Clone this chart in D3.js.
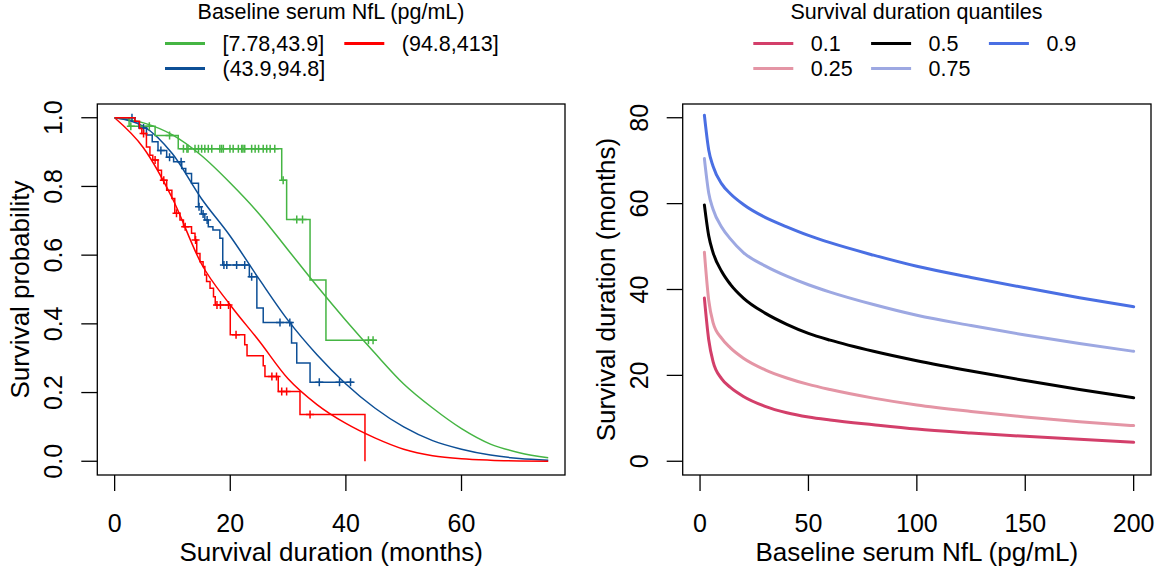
<!DOCTYPE html>
<html>
<head>
  <meta charset="utf-8">
  <script src="https://d3js.org/d3.v7.min.js"></script>
  <style>
    body { margin: 0; background: #fff; }
    svg { display: block; }
    text { font-family: "Liberation Sans", Arial, Helvetica, sans-serif; fill: #000; }
  </style>
</head>
<body>
<script>
  // ---------- left panel: Kaplan-Meier by baseline NfL tertile ----------
  var groupNames = ["[7.78,43.9]", "(43.9,94.8]", "(94.8,413]"];
  var groupColors = ["#45b543", "#0d4f96", "#ff0000"];

  // KM step points (time in months, survival)
  var greenTimes = [0, 2.5, 7, 11, 28.9, 29.75, 33.8, 36.55, 45.3];
  var greenSurv  = [1, 0.975, 0.948, 0.91, 0.818, 0.704, 0.528, 0.352, 0.352];
  var greenCens  = [2.8, 6.0, 9.5, 11.9, 12.5, 12.7, 13.9, 14.5, 15.05, 15.6, 16.2, 16.8, 18.2, 18.5, 18.8,
                    19.95, 20.5, 21.4, 21.97, 22.2, 22.5, 23.7, 24.3, 24.9, 25.7, 26.3, 26.9, 27.7,
                    29.15, 31.5, 32.5, 43.9, 44.7];

  var blueTimes = [0, 3.5, 4.2, 5.5, 6.5, 7.5, 9, 10.2, 11.6, 12.3, 13.3, 14.5, 15, 15.6, 16.2, 17, 18.2, 18.7,
                   23.3, 24.6, 25.7, 30.6, 31.5, 33.8, 41.3];
  var blueSurv  = [1, 0.988, 0.97, 0.95, 0.93, 0.905, 0.885, 0.872, 0.852, 0.838, 0.809, 0.741, 0.72, 0.702,
                   0.683, 0.673, 0.649, 0.571, 0.537, 0.446, 0.404, 0.344, 0.286, 0.23, 0.23];
  var blueCens  = [3.0, 5.0, 8.0, 9.5, 11.5, 14.6, 15.3, 16.0, 18.9, 19.4, 21.1, 22.5, 23.7, 28.6, 30.3,
                   35.4, 38.9, 40.8];

  var redTimes = [0, 3.5, 4.3, 4.7, 5.5, 6.1, 6.6, 7.5, 8.1, 9, 9.9, 10.4, 11.3, 11.9, 13.3, 13.9, 14.2, 14.76,
                  15.3, 15.6, 15.9, 16.5, 17.1, 17.4, 20.0, 22.5, 22.9, 25.7, 26.0, 28.3, 32.06, 43.3];
  var redSurv  = [1, 0.99, 0.969, 0.954, 0.915, 0.891, 0.877, 0.847, 0.818, 0.789, 0.765, 0.722, 0.702, 0.683,
                  0.664, 0.644, 0.605, 0.581, 0.567, 0.542, 0.523, 0.504, 0.479, 0.455, 0.368, 0.339, 0.307,
                  0.278, 0.247, 0.203, 0.136, 0];
  var redCens  = [5.0, 7.0, 8.5, 10.7, 12.2, 14.0, 17.7, 18.3, 19.7, 21.0, 27.2, 28.0, 28.9, 29.75, 33.8];

  // fitted parametric survival curves
  var fitTimes = [0, 5, 10, 15, 20, 25, 30, 35, 40, 45, 50, 55, 60, 65, 70, 75];
  var greenFit = [1, 0.985, 0.95, 0.89, 0.81, 0.72, 0.615, 0.51, 0.41, 0.315, 0.225, 0.155, 0.095, 0.05, 0.025, 0.01];
  var blueFit  = [1, 0.975, 0.895, 0.765, 0.655, 0.53, 0.41, 0.31, 0.225, 0.155, 0.10, 0.06, 0.035, 0.018, 0.008, 0.003];
  var redFit   = [1, 0.912, 0.765, 0.575, 0.455, 0.35, 0.24, 0.165, 0.11, 0.068, 0.035, 0.016, 0.007, 0.003, 0.001, 0];

  var leftXTicks = [0, 20, 40, 60];
  var leftYTicks = [0, 0.2, 0.4, 0.6, 0.8, 1.0];

  // ---------- right panel: predicted survival quantiles vs NfL ----------
  var quantNames  = ["0.1", "0.25", "0.5", "0.75", "0.9"];
  var quantColors = ["#d33f6a", "#e495a5", "#000000", "#9da8e2", "#4a6fe3"];
  var nfl = [2, 4, 6, 10, 14, 20, 30, 40, 50, 60, 80, 100, 125, 150, 175, 200];
  var q10 = [38, 28.3, 23.2, 19.2, 17.2, 15.1, 12.8, 11.3, 10.3, 9.6, 8.5, 7.5, 6.6, 5.8, 5.1, 4.4];
  var q25 = [48.7, 37.5, 32.3, 28.6, 26.4, 24.0, 21.3, 19.4, 17.9, 16.7, 14.7, 13.1, 11.6, 10.3, 9.2, 8.3];
  var q50 = [59.7, 52.5, 48.6, 44.2, 41.2, 38, 34.5, 31.9, 29.8, 28.2, 25.6, 23.4, 21, 18.8, 16.7, 14.8];
  var q75 = [70.5, 62.5, 58.7, 54.5, 51.8, 48.6, 45.5, 43.1, 41.1, 39.4, 36.5, 34, 31.6, 29.4, 27.4, 25.6];
  var q90 = [80.6, 72.5, 68.7, 64.6, 62.3, 59.8, 56.8, 54.6, 52.6, 50.9, 48, 45.4, 42.8, 40.4, 38.1, 36];

  var rightXTicks = [0, 50, 100, 150, 200];
  var rightYTicks = [0, 20, 40, 60, 80];

  (function () {
    var W = 1166, H = 576;
    var svg = d3.select("body").append("svg").attr("width", W).attr("height", H);

    var pTop = 104, pBot = 475;
    var L = {left: 97.3, right: 565}, R = {left: 682.7, right: 1151};

    // R style 4% padding around the data range
    var xL = d3.scaleLinear().domain([-3.0, 77.9]).range([L.left, L.right]);
    var yL = d3.scaleLinear().domain([-0.04, 1.04]).range([pBot, pTop]);
    var xR = d3.scaleLinear().domain([-8, 208]).range([R.left, R.right]);
    var yR = d3.scaleLinear().domain([-3.2, 83.2]).range([pBot, pTop]);

    function frame(p, x, y, xt, yt, xtitle, ytitle, yfmt) {
      var g = svg.append("g");
      g.append("rect").attr("x", p.left).attr("y", pTop).attr("width", p.right - p.left).attr("height", pBot - pTop)
        .attr("fill", "none").attr("stroke", "#000").attr("stroke-width", 1.3);
      xt.forEach(function (t) {
        g.append("line").attr("x1", x(t)).attr("x2", x(t)).attr("y1", pBot).attr("y2", pBot + 16)
          .attr("stroke", "#000").attr("stroke-width", 1.3);
        g.append("text").attr("x", x(t)).attr("y", 531.5).attr("text-anchor", "middle")
          .style("font-size", "25px").text(t);
      });
      yt.forEach(function (t) {
        g.append("line").attr("x1", p.left - 16).attr("x2", p.left).attr("y1", y(t)).attr("y2", y(t))
          .attr("stroke", "#000").attr("stroke-width", 1.3);
        g.append("text").attr("transform", "translate(" + (p.left - 35) + "," + y(t) + ") rotate(-90)")
          .attr("text-anchor", "middle").style("font-size", "25px").text(yfmt(t));
      });
      g.append("text").attr("x", (p.left + p.right) / 2).attr("y", 561).attr("text-anchor", "middle")
        .style("font-size", "26px").text(xtitle);
      g.append("text").attr("transform", "translate(" + (p.left - 68) + "," + ((pTop + pBot) / 2) + ") rotate(-90)")
        .attr("text-anchor", "middle").style("font-size", "26px").text(ytitle);
    }

    frame(L, xL, yL, leftXTicks, leftYTicks, "Survival duration (months)", "Survival probability", d3.format(".1f"));
    frame(R, xR, yR, rightXTicks, rightYTicks, "Baseline serum NfL (pg/mL)", "Survival duration (months)", d3.format("d"));

    // left panel curves
    var fitLine = d3.line().x(function (d) { return xL(d[0]); }).y(function (d) { return yL(d[1]); })
      .curve(d3.curveMonotoneX);
    var stepLine = d3.line().x(function (d) { return xL(d[0]); }).y(function (d) { return yL(d[1]); })
      .curve(d3.curveStepAfter);

    var groups = [
      {times: greenTimes, surv: greenSurv, cens: greenCens, fit: greenFit, color: groupColors[0]},
      {times: blueTimes, surv: blueSurv, cens: blueCens, fit: blueFit, color: groupColors[1]},
      {times: redTimes, surv: redSurv, cens: redCens, fit: redFit, color: groupColors[2]}
    ];

    function survAt(gr, t) {
      var s = 1;
      for (var i = 0; i < gr.times.length; i++) { if (gr.times[i] <= t) s = gr.surv[i]; }
      return s;
    }

    var plotL = svg.append("g");
    groups.forEach(function (gr) {
      plotL.append("path").datum(fitTimes.map(function (t, i) { return [t, gr.fit[i]]; }))
        .attr("d", fitLine).attr("fill", "none").attr("stroke", gr.color).attr("stroke-width", 1.5);
    });
    groups.forEach(function (gr) {
      plotL.append("path").datum(gr.times.map(function (t, i) { return [t, gr.surv[i]]; }))
        .attr("d", stepLine).attr("fill", "none").attr("stroke", gr.color).attr("stroke-width", 1.5);
      gr.cens.forEach(function (t) {
        var cx = xL(t), cy = yL(survAt(gr, t));
        plotL.append("path").attr("d", "M" + (cx - 4) + "," + cy + "H" + (cx + 4) + "M" + cx + "," + (cy - 4) + "V" + (cy + 4))
          .attr("stroke", gr.color).attr("stroke-width", 1.5);
      });
    });

    // right panel curves
    var qLine = d3.line().x(function (d) { return xR(d[0]); }).y(function (d) { return yR(d[1]); })
      .curve(d3.curveMonotoneX);
    var qSeries = [q10, q25, q50, q75, q90];
    qSeries.forEach(function (vals, k) {
      svg.append("path").datum(nfl.map(function (x, i) { return [x, vals[i]]; }))
        .attr("d", qLine).attr("fill", "none").attr("stroke", quantColors[k]).attr("stroke-width", 3)
        .attr("stroke-linecap", "round");
    });

    // legends above each panel
    function legend(cx, title, names, colors, pos, colW, keyX0) {
      svg.append("text").attr("x", cx).attr("y", 19).attr("text-anchor", "middle").style("font-size", "21.5px").text(title);
      names.forEach(function (n, i) {
        var kx = keyX0 + pos[i][0] * colW, ky = 43.5 + pos[i][1] * 25;
        svg.append("line").attr("x1", kx).attr("x2", kx + 40).attr("y1", ky).attr("y2", ky)
          .attr("stroke", colors[i]).attr("stroke-width", 3);
        svg.append("text").attr("x", kx + 57.5).attr("y", ky + 7.5).style("font-size", "21.5px").text(n);
      });
    }
    legend(331, "Baseline serum NfL (pg/mL)", groupNames, groupColors, [[0, 0], [0, 1], [1, 0]], 179.3, 165);
    legend(916.5, "Survival duration quantiles", quantNames, quantColors,
      [[0, 0], [0, 1], [1, 0], [1, 1], [2, 0]], 117.8, 753.3);
  })();
</script>
</body>
</html>
